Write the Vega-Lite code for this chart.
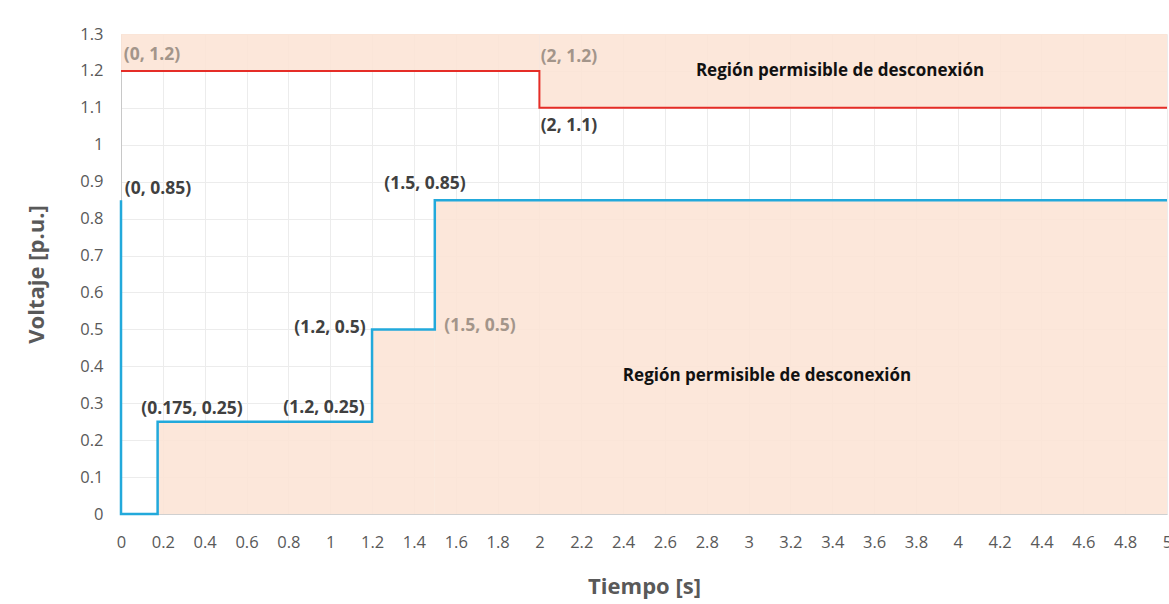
{
  "$schema": "https://vega.github.io/schema/vega-lite/v6.json",
  "width": 1046,
  "height": 480,
  "autosize": {"type": "none"},
  "padding": {"left": 121, "top": 34, "right": 2, "bottom": 90},
  "background": "white",
  "config": {"view": {"stroke": null}, "font": "Open Sans"},
  "datasets": {
    "regions": [
      {"t": 0, "t2": 2, "v": 1.2, "v2": 1.3},
      {"t": 2, "t2": 5, "v": 1.1, "v2": 1.3},
      {"t": 0.175, "t2": 1.2, "v": 0, "v2": 0.25},
      {"t": 1.2, "t2": 1.5, "v": 0, "v2": 0.5},
      {"t": 1.5, "t2": 5, "v": 0, "v2": 0.85}
    ],
    "maxLine": [
      {"ord": 1, "t": 0, "v": 1.2},
      {"ord": 2, "t": 2, "v": 1.2},
      {"ord": 3, "t": 2, "v": 1.1},
      {"ord": 4, "t": 5, "v": 1.1}
    ],
    "minLine": [
      {"ord": 1, "t": 0, "v": 0.85},
      {"ord": 2, "t": 0, "v": 0},
      {"ord": 3, "t": 0.175, "v": 0},
      {"ord": 4, "t": 0.175, "v": 0.25},
      {"ord": 5, "t": 1.2, "v": 0.25},
      {"ord": 6, "t": 1.2, "v": 0.5},
      {"ord": 7, "t": 1.5, "v": 0.5},
      {"ord": 8, "t": 1.5, "v": 0.85},
      {"ord": 9, "t": 5, "v": 0.85}
    ],
    "lightLabels": [
      {"label": "(0, 1.2)", "t": 0.148, "v": 1.243},
      {"label": "(2, 1.2)", "t": 2.141, "v": 1.238},
      {"label": "(1.5, 0.5)", "t": 1.716, "v": 0.509}
    ],
    "darkLabels": [
      {"label": "(2, 1.1)", "t": 2.141, "v": 1.051},
      {"label": "(0, 0.85)", "t": 0.177, "v": 0.88},
      {"label": "(1.5, 0.85)", "t": 1.453, "v": 0.894},
      {"label": "(1.2, 0.5)", "t": 0.999, "v": 0.504},
      {"label": "(0.175, 0.25)", "t": 0.339, "v": 0.284},
      {"label": "(1.2, 0.25)", "t": 0.97, "v": 0.287}
    ],
    "regionText": [
      {"label": "Región permisible de desconexión", "t": 3.437, "v": 1.2},
      {"label": "Región permisible de desconexión", "t": 3.088, "v": 0.374}
    ]
  },
  "encoding": {
    "x": {"field": "t", "type": "quantitative",
      "scale": {"domain": [0, 5], "nice": false, "zero": false},
      "axis": {
        "values": [0, 0.2, 0.4, 0.6, 0.8, 1, 1.2, 1.4, 1.6, 1.8, 2, 2.2, 2.4, 2.6, 2.8, 3, 3.2, 3.4, 3.6, 3.8, 4, 4.2, 4.4, 4.6, 4.8, 5],
        "format": "~g",
        "title": "Tiempo [s]",
        "titleFontSize": 22, "titleFontWeight": "bold", "titleColor": "#595959", "titlePadding": 26,
        "labelFontSize": 16.5, "labelColor": "#595959", "labelPadding": 20,
        "ticks": false, "domainColor": "#d0d0d0", "grid": true, "gridColor": "#ececec",
        "labelFlush": false, "labelOverlap": false
      }},
    "y": {"field": "v", "type": "quantitative",
      "scale": {"domain": [0, 1.3], "nice": false},
      "axis": {
        "values": [0, 0.1, 0.2, 0.3, 0.4, 0.5, 0.6, 0.7, 0.8, 0.9, 1, 1.1, 1.2, 1.3],
        "format": "~g",
        "title": "Voltaje [p.u.]",
        "titleFontSize": 22, "titleFontWeight": "bold", "titleColor": "#595959", "titlePadding": 31,
        "labelFontSize": 16.5, "labelColor": "#595959", "labelPadding": 18,
        "ticks": false, "domainColor": "#c8c8c8", "grid": true, "gridColor": "#ececec",
        "labelFlush": false, "labelOverlap": false
      }}
  },
  "layer": [
    {
      "data": {"name": "regions"},
      "mark": {"type": "rect", "color": "#fce4d6", "opacity": 0.9},
      "encoding": {
        "x2": {"field": "t2"},
        "y2": {"field": "v2"}
      }
    },
    {
      "data": {"name": "maxLine"},
      "mark": {"type": "line", "color": "#e52d27", "strokeWidth": 2},
      "encoding": {
        "order": {"field": "ord", "type": "quantitative"}
      }
    },
    {
      "data": {"name": "minLine"},
      "mark": {"type": "line", "color": "#22a9db", "strokeWidth": 2.5},
      "encoding": {
        "order": {"field": "ord", "type": "quantitative"}
      }
    },
    {
      "data": {"name": "lightLabels"},
      "mark": {"type": "text", "fontSize": 17.5, "fontWeight": "bold", "align": "center", "baseline": "middle", "color": "#a3958a"},
      "encoding": {"text": {"field": "label"}}
    },
    {
      "data": {"name": "darkLabels"},
      "mark": {"type": "text", "fontSize": 17.5, "fontWeight": "bold", "align": "center", "baseline": "middle", "color": "#404040"},
      "encoding": {"text": {"field": "label"}}
    },
    {
      "data": {"name": "regionText"},
      "mark": {"type": "text", "fontSize": 17, "fontWeight": "bold", "align": "center", "baseline": "middle", "color": "#111111"},
      "encoding": {"text": {"field": "label"}}
    }
  ]
}
